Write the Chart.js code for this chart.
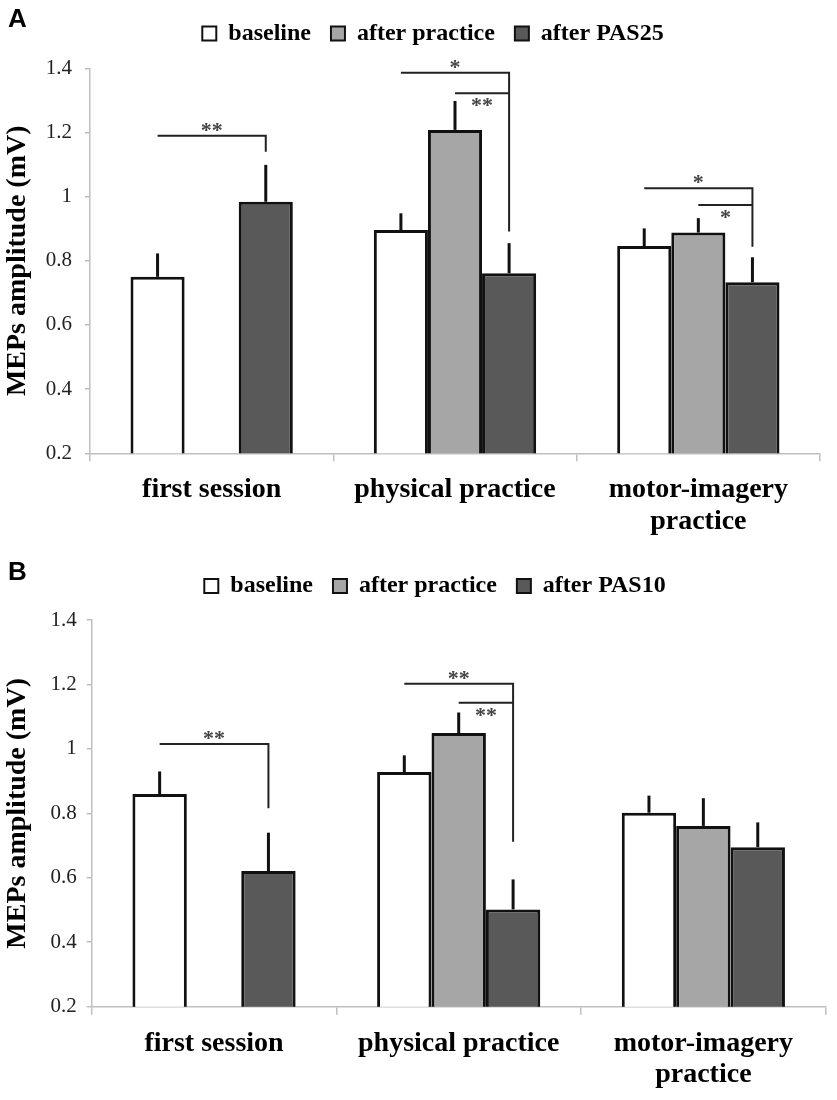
<!DOCTYPE html>
<html>
<head>
<meta charset="utf-8">
<script src="https://cdn.jsdelivr.net/npm/chart.js@4.4.1/dist/chart.umd.min.js"></script>
<style>
  html, body { margin: 0; padding: 0; background: #fff; }
  body { width: 837px; height: 1100px; position: relative; overflow: hidden; }
  .panel { position: absolute; left: 0; width: 837px; }
  .tag { position: absolute; left: 8px; z-index: 2; font: bold 26px "Liberation Sans", Arial, sans-serif; color: #000; }
</style>
</head>
<body>
<div class="panel" style="top:0;height:550px"><canvas id="chartA"></canvas></div>
<div class="panel" style="top:551px;height:549px"><canvas id="chartB"></canvas></div>
<div class="tag" style="top:3px">A</div>
<div class="tag" style="top:556px">B</div>
<script>
// categories and tick labels
const categories = ["first session", "physical practice", ["motor-imagery", "practice"]];
const seriesA = ["baseline", "after practice", "after PAS25"];
const seriesB = ["baseline", "after practice", "after PAS10"];
const yTicks = [0.2, 0.4, 0.6, 0.8, 1, 1.2, 1.4];

// panel A: mean MEP amplitude (mV) and SEM
const baselineA = [0.75, 0.896, 0.846];
const practiceA = [null, 1.208, 0.888];
const pasA = [0.984, 0.761, 0.733];
const baselineSemA = [0.073, 0.052, 0.055];
const practiceSemA = [null, 0.09, 0.045];
const pasSemA = [0.115, 0.094, 0.078];

// panel B
const baselineB = [0.86, 0.928, 0.802];
const practiceB = [null, 1.049, 0.761];
const pasB = [0.621, 0.502, 0.695];
const baselineSemB = [0.07, 0.052, 0.053];
const practiceSemB = [null, 0.064, 0.086];
const pasSemB = [0.119, 0.093, 0.077];

// significance brackets (bar index from -> to inside a category, levels in mV)
const bracketsA = [
  { cat: 0, from: 0, to: 2, y: 1.19, drop: 1.14, text: "**", side: "above" },
  { cat: 1, from: 0, to: 2, y: 1.386, drop: 0.891, text: "*", side: "above" },
  { cat: 1, from: 1, to: 2, y: 1.322, drop: null, text: "**", side: "below" },
  { cat: 2, from: 0, to: 2, y: 1.026, drop: 0.844, text: "*", side: "above" },
  { cat: 2, from: 1, to: 2, y: 0.974, drop: null, text: "*", side: "below" },
];
const bracketsB = [
  { cat: 0, from: 0, to: 2, y: 1.015, drop: 0.816, text: "**", side: "above" },
  { cat: 1, from: 0, to: 2, y: 1.202, drop: 0.712, text: "**", side: "above" },
  { cat: 1, from: 1, to: 2, y: 1.143, drop: null, text: "**", side: "below" },
];

const fills = ["#ffffff", "#a6a6a6", "#595959"];
const serif = '"Liberation Serif", "Times New Roman", serif';

// error bars (upward only) + significance brackets
const marks = {
  id: "marks",
  afterDatasetsDraw(chart, args, opts) {
    const ctx = chart.ctx;
    const y = chart.scales.y;
    ctx.save();
    ctx.strokeStyle = "#111";
    ctx.lineWidth = 3;
    opts.sem.forEach((sems, d) => {
      const meta = chart.getDatasetMeta(d);
      const values = chart.data.datasets[d].data;
      sems.forEach((s, i) => {
        if (s == null || values[i] == null) return;
        const bar = meta.data[i];
        ctx.beginPath();
        ctx.moveTo(bar.x, bar.y);
        ctx.lineTo(bar.x, y.getPixelForValue(values[i] + s));
        ctx.stroke();
      });
    });

    ctx.strokeStyle = "#222";
    ctx.lineWidth = 2;
    ctx.fillStyle = "#444";
    ctx.font = "bold 22px " + serif;
    ctx.textAlign = "center";
    ctx.textBaseline = "alphabetic";
    opts.brackets.forEach(b => {
      const x1 = chart.getDatasetMeta(b.from).data[b.cat].x;
      const x2 = chart.getDatasetMeta(b.to).data[b.cat].x;
      const yy = y.getPixelForValue(b.y);
      ctx.beginPath();
      ctx.moveTo(x1, yy);
      ctx.lineTo(x2, yy);
      if (b.drop != null) ctx.lineTo(x2, y.getPixelForValue(b.drop));
      ctx.stroke();
      const ty = b.side === "above" ? yy + 1 : yy + 19;
      ctx.fillText(b.text, (x1 + x2) / 2, ty);
    });
    ctx.restore();
  }
};

function makeChart(id, names, values, sems, brackets, L) {
  new Chart(document.getElementById(id), {
    type: "bar",
    data: {
      labels: categories,
      datasets: values.map((v, i) => ({
        label: names[i],
        data: v,
        backgroundColor: fills[i],
        borderColor: "#111",
        borderWidth: 3,
        borderSkipped: false,
        categoryPercentage: 0.667,
        barPercentage: 1.0,
      })),
    },
    options: {
      responsive: true,
      maintainAspectRatio: false,
      animation: false,
      layout: { padding: L.pad },
      plugins: {
        tooltip: { enabled: false },
        legend: {
          position: "top",
          labels: {
            color: "#000",
            font: { family: serif, size: 24, weight: "bold" },
            boxWidth: 14,
            boxHeight: 14,
            padding: 20,
            generateLabels(chart) {
              return Chart.defaults.plugins.legend.labels.generateLabels(chart)
                .map(l => Object.assign(l, { lineWidth: 2, strokeStyle: "#111" }));
            },
          },
        },
        // empty spacer between legend and plot
        title: {
          display: true,
          text: "",
          weight: 500,
          font: { size: 1 },
          padding: { top: L.gap, bottom: 0 },
        },
        marks: { sem: sems, brackets: brackets },
      },
      scales: {
        x: {
          afterFit(s) { s.height = L.xh; },
          border: { color: "#bfbfbf", width: 1.5 },
          grid: { drawOnChartArea: false, color: "#bfbfbf", lineWidth: 1.5, tickLength: 8 },
          ticks: {
            color: "#000",
            font: { family: serif, size: 28, weight: "bold", lineHeight: 1.13 },
            padding: 13,
            maxRotation: 0,
            autoSkip: false,
          },
        },
        y: {
          min: 0.2,
          max: 1.4,
          afterFit(s) { s.width = L.yw; },
          afterBuildTicks(s) { s.ticks = yTicks.map(v => ({ value: v })); },
          border: { color: "#bfbfbf", width: 1.5 },
          grid: { drawOnChartArea: false, color: "#bfbfbf", lineWidth: 1.5, tickLength: 5 },
          ticks: {
            color: "#222",
            font: { family: serif, size: 21 },
            padding: L.tp,
            callback: v => String(Math.round(v * 10) / 10),
          },
          title: {
            display: true,
            text: "MEPs amplitude (mV)",
            color: "#000",
            font: { family: serif, size: 28, weight: "bold" },
            padding: { top: L.titlePad, bottom: 0 },
          },
        },
      },
    },
    plugins: [marks],
  });
}

makeChart("chartA", seriesA,
  [baselineA, practiceA, pasA],
  [baselineSemA, practiceSemA, pasSemA],
  bracketsA,
  { pad: { left: 46, right: 17, top: 1.5, bottom: 0 }, yw: 44, xh: 96.7, gap: 11.6, tp: 13, titlePad: -45.3 });

makeChart("chartB", seriesB,
  [baselineB, practiceB, pasB],
  [baselineSemB, practiceSemB, pasSemB],
  bracketsB,
  { pad: { left: 44.3, right: 11.3, top: 3, bottom: 0 }, yw: 47.4, xh: 93.3, gap: 10.8, tp: 10, titlePad: -43.6 });
</script>
</body>
</html>
